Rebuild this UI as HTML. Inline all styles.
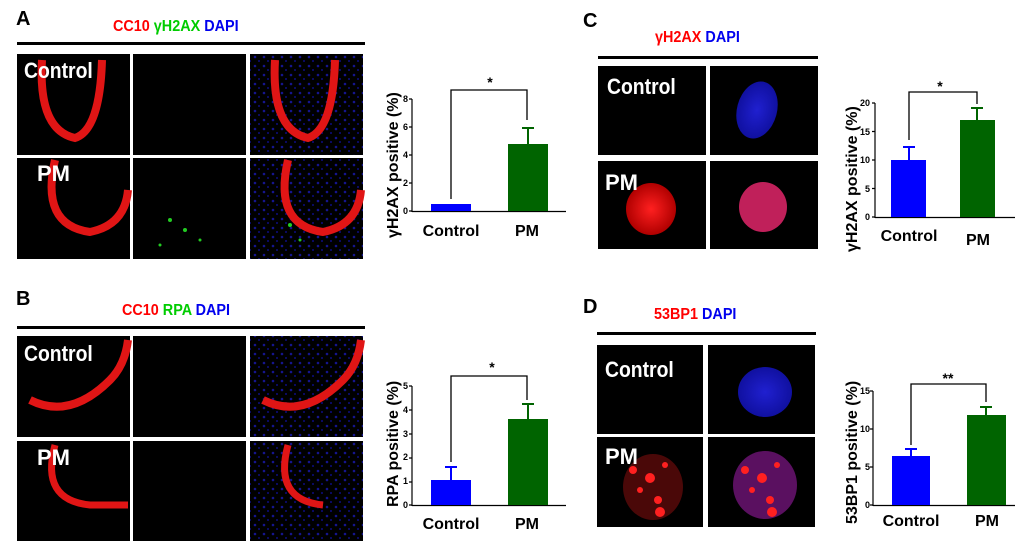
<!DOCTYPE html><html><head><style>body{margin:0;background:#fff}svg{display:block}text{font-family:"Liberation Sans",sans-serif;font-weight:bold}</style></head><body>
<svg width="1020" height="559" xmlns="http://www.w3.org/2000/svg">
<defs>
<radialGradient id="bl"><stop offset="0" stop-color="#2020d0"/><stop offset="1" stop-color="#1010a0"/></radialGradient>
<radialGradient id="rd"><stop offset="0" stop-color="#ff2020"/><stop offset="1" stop-color="#b00000"/></radialGradient>
<pattern id="dots" width="9" height="9" patternUnits="userSpaceOnUse"><circle cx="3" cy="3" r="1.3" fill="#1a1ab0"/><circle cx="7" cy="7" r="1" fill="#1010a0"/></pattern>
</defs>
<!-- Panel A -->
<text x="16" y="25" font-size="20">A</text>
<text x="113" y="31" font-size="16" transform="translate(113,0) scale(0.9,1) translate(-113,0)"><tspan fill="#f00">CC10 </tspan><tspan fill="#0c0">γH2AX </tspan><tspan fill="#00e">DAPI</tspan></text>
<rect x="17" y="42" width="348" height="3" fill="#000"/>
<g fill="#000"><rect x="17" y="54" width="113" height="101"/><rect x="133" y="54" width="113" height="101"/><rect x="250" y="54" width="113" height="101"/>
<rect x="17" y="158" width="113" height="101"/><rect x="133" y="158" width="113" height="101"/><rect x="250" y="158" width="113" height="101"/></g>
<rect x="250" y="54" width="113" height="101" fill="url(#dots)" opacity="0.8"/>
<rect x="250" y="158" width="113" height="101" fill="url(#dots)" opacity="0.8"/>
<path d="M42 60 Q38 130 75 138 Q100 130 102 60" fill="none" stroke="#e01515" stroke-width="8"/>
<path d="M275 60 Q271 130 308 138 Q333 130 335 60" fill="none" stroke="#e01515" stroke-width="8"/>
<path d="M55 160 Q40 225 90 232 Q125 225 128 190" fill="none" stroke="#e01515" stroke-width="8"/>
<path d="M288 160 Q273 225 323 232 Q358 225 361 190" fill="none" stroke="#e01515" stroke-width="8"/>
<g fill="#2c2"><circle cx="170" cy="220" r="2"/><circle cx="185" cy="230" r="2"/><circle cx="160" cy="245" r="1.5"/><circle cx="200" cy="240" r="1.5"/><circle cx="290" cy="225" r="2"/><circle cx="300" cy="240" r="1.5"/></g>
<text x="24" y="78" font-size="22" fill="#fff" transform="translate(24,0) scale(0.88,1) translate(-24,0)">Control</text>
<text x="37" y="181" font-size="22" fill="#fff">PM</text>
<!-- chart A -->
<text transform="translate(398,238) rotate(-90)" font-size="16">γH2AX positive (%)</text>
<g font-size="9" text-anchor="end"><text x="408" y="214">0</text><text x="408" y="186">2</text><text x="408" y="158">4</text><text x="408" y="130">6</text><text x="408" y="102">8</text></g>
<path d="M412 99V212M409 99h3M409 127h3M409 155h3M409 183h3M409 211h3M412 211.5H566" stroke="#000" stroke-width="1.2" fill="none"/>
<rect x="431" y="204" width="40" height="7" fill="#0000ff"/>
<rect x="508" y="144" width="40" height="67" fill="#006400"/>
<path d="M528 144V128M522 128h12" stroke="#006400" stroke-width="2"/>
<path d="M451 199V90H527V120" stroke="#000" stroke-width="1.3" fill="none"/>
<text x="490" y="87" font-size="14" text-anchor="middle">*</text>
<text x="451" y="236" font-size="16" text-anchor="middle">Control</text><text x="527" y="236" font-size="16" text-anchor="middle">PM</text>
<!-- Panel B -->
<text x="16" y="305" font-size="20">B</text>
<text x="122" y="315" font-size="16" transform="translate(122,0) scale(0.9,1) translate(-122,0)"><tspan fill="#f00">CC10 </tspan> <tspan fill="#0c0">RPA </tspan><tspan fill="#00e">DAPI</tspan></text>
<rect x="17" y="326" width="348" height="3" fill="#000"/>
<g fill="#000"><rect x="17" y="336" width="113" height="101"/><rect x="133" y="336" width="113" height="101"/><rect x="250" y="336" width="113" height="101"/>
<rect x="17" y="441" width="113" height="100"/><rect x="133" y="441" width="113" height="100"/><rect x="250" y="441" width="113" height="100"/></g>
<rect x="250" y="336" width="113" height="101" fill="url(#dots)" opacity="0.8"/>
<rect x="250" y="441" width="113" height="100" fill="url(#dots)" opacity="0.8"/>
<path d="M30 400 Q70 420 110 380 Q125 365 128 340" fill="none" stroke="#e01515" stroke-width="8"/>
<path d="M263 400 Q303 420 343 380 Q358 365 361 340" fill="none" stroke="#e01515" stroke-width="8"/>
<path d="M55 445 Q40 500 90 505 Q110 505 128 505" fill="none" stroke="#e01515" stroke-width="7"/>
<path d="M288 445 Q273 500 323 505" fill="none" stroke="#e01515" stroke-width="7"/>
<text x="24" y="361" font-size="22" fill="#fff" transform="translate(24,0) scale(0.88,1) translate(-24,0)">Control</text>
<text x="37" y="465" font-size="22" fill="#fff">PM</text>
<text transform="translate(398,507) rotate(-90)" font-size="16">RPA positive (%)</text>
<g font-size="9" text-anchor="end"><text x="408" y="508">0</text><text x="408" y="484">1</text><text x="408" y="460">2</text><text x="408" y="437">3</text><text x="408" y="413">4</text><text x="408" y="389">5</text></g>
<path d="M412 386V506M409 386h3M409 410h3M409 434h3M409 458h3M409 482h3M409 505h3M412 505.5H566" stroke="#000" stroke-width="1.2" fill="none"/>
<rect x="431" y="480" width="40" height="25" fill="#0000ff"/>
<rect x="508" y="419" width="40" height="86" fill="#006400"/>
<path d="M451 480V467M445 467h12" stroke="#0000ff" stroke-width="2"/>
<path d="M528 419V404M522 404h12" stroke="#006400" stroke-width="2"/>
<path d="M451 462V376H527V400" stroke="#000" stroke-width="1.3" fill="none"/>
<text x="492" y="372" font-size="14" text-anchor="middle">*</text>
<text x="451" y="529" font-size="16" text-anchor="middle">Control</text><text x="527" y="529" font-size="16" text-anchor="middle">PM</text>
<!-- Panel C -->
<text x="583" y="27" font-size="20">C</text>
<text x="655" y="42" font-size="16" transform="translate(655,0) scale(0.9,1) translate(-655,0)"><tspan fill="#f00">γH2AX </tspan><tspan fill="#00e">DAPI</tspan></text>
<rect x="598" y="56" width="220" height="3" fill="#000"/>
<g fill="#000"><rect x="598" y="66" width="108" height="89"/><rect x="710" y="66" width="108" height="89"/><rect x="598" y="161" width="108" height="88"/><rect x="710" y="161" width="108" height="88"/></g>
<ellipse cx="757" cy="110" rx="20" ry="29" fill="url(#bl)" transform="rotate(15 757 110)"/>
<ellipse cx="651" cy="209" rx="25" ry="26" fill="url(#rd)"/>
<ellipse cx="763" cy="207" rx="24" ry="25" fill="#c0205a"/>
<text x="607" y="94" font-size="22" fill="#fff" transform="translate(607,0) scale(0.88,1) translate(-607,0)">Control</text>
<text x="605" y="190" font-size="22" fill="#fff">PM</text>
<text transform="translate(857,252) rotate(-90)" font-size="16">γH2AX positive (%)</text>
<g font-size="9" text-anchor="end"><text x="870" y="220">0</text><text x="870" y="192">5</text><text x="870" y="163">10</text><text x="870" y="135">15</text><text x="870" y="106">20</text></g>
<path d="M875 103V218M872 103h3M872 131.5h3M872 160h3M872 188.5h3M872 217h3M875 217.5H1015" stroke="#000" stroke-width="1.2" fill="none"/>
<rect x="891" y="160" width="35" height="57" fill="#0000ff"/>
<rect x="960" y="120" width="35" height="97" fill="#006400"/>
<path d="M909 160V147M903 147h12" stroke="#0000ff" stroke-width="2"/>
<path d="M977 120V108M971 108h12" stroke="#006400" stroke-width="2"/>
<path d="M909 140V92H977V104" stroke="#000" stroke-width="1.3" fill="none"/>
<text x="940" y="91" font-size="14" text-anchor="middle">*</text>
<text x="909" y="241" font-size="16" text-anchor="middle">Control</text><text x="978" y="245" font-size="16" text-anchor="middle">PM</text>
<!-- Panel D -->
<text x="583" y="313" font-size="20">D</text>
<text x="654" y="319" font-size="16" transform="translate(654,0) scale(0.9,1) translate(-654,0)"><tspan fill="#f00">53BP1 </tspan> <tspan fill="#00e">DAPI</tspan></text>
<rect x="597" y="332" width="219" height="3" fill="#000"/>
<g fill="#000"><rect x="597" y="345" width="106" height="89"/><rect x="708" y="345" width="107" height="89"/><rect x="597" y="437" width="106" height="90"/><rect x="708" y="437" width="107" height="90"/></g>
<ellipse cx="765" cy="392" rx="27" ry="25" fill="url(#bl)"/>
<ellipse cx="653" cy="487" rx="30" ry="33" fill="#4a0808"/>
<ellipse cx="765" cy="485" rx="32" ry="34" fill="#5a1060"/>
<g fill="#ff2020"><circle cx="633" cy="470" r="4"/><circle cx="650" cy="478" r="5"/><circle cx="665" cy="465" r="3"/><circle cx="658" cy="500" r="4"/><circle cx="660" cy="512" r="5"/><circle cx="640" cy="490" r="3"/>
<circle cx="745" cy="470" r="4"/><circle cx="762" cy="478" r="5"/><circle cx="777" cy="465" r="3"/><circle cx="770" cy="500" r="4"/><circle cx="772" cy="512" r="5"/><circle cx="752" cy="490" r="3"/></g>
<text x="605" y="377" font-size="22" fill="#fff" transform="translate(605,0) scale(0.88,1) translate(-605,0)">Control</text>
<text x="605" y="464" font-size="22" fill="#fff">PM</text>
<text transform="translate(857,524) rotate(-90)" font-size="16">53BP1 positive (%)</text>
<g font-size="9" text-anchor="end"><text x="870" y="508">0</text><text x="870" y="470">5</text><text x="870" y="432">10</text><text x="870" y="394">15</text></g>
<path d="M873 391V506M870 391h3M870 429h3M870 467h3M870 505h3M873 505.5H1015" stroke="#000" stroke-width="1.2" fill="none"/>
<rect x="892" y="456" width="38" height="49" fill="#0000ff"/>
<rect x="967" y="415" width="39" height="90" fill="#006400"/>
<path d="M911 456V449M905 449h12" stroke="#0000ff" stroke-width="2"/>
<path d="M986 415V407M980 407h12" stroke="#006400" stroke-width="2"/>
<path d="M911 445V384H986V402" stroke="#000" stroke-width="1.3" fill="none"/>
<text x="948" y="383" font-size="14" text-anchor="middle">**</text>
<text x="911" y="526" font-size="16" text-anchor="middle">Control</text><text x="987" y="526" font-size="16" text-anchor="middle">PM</text>
</svg></body></html>
